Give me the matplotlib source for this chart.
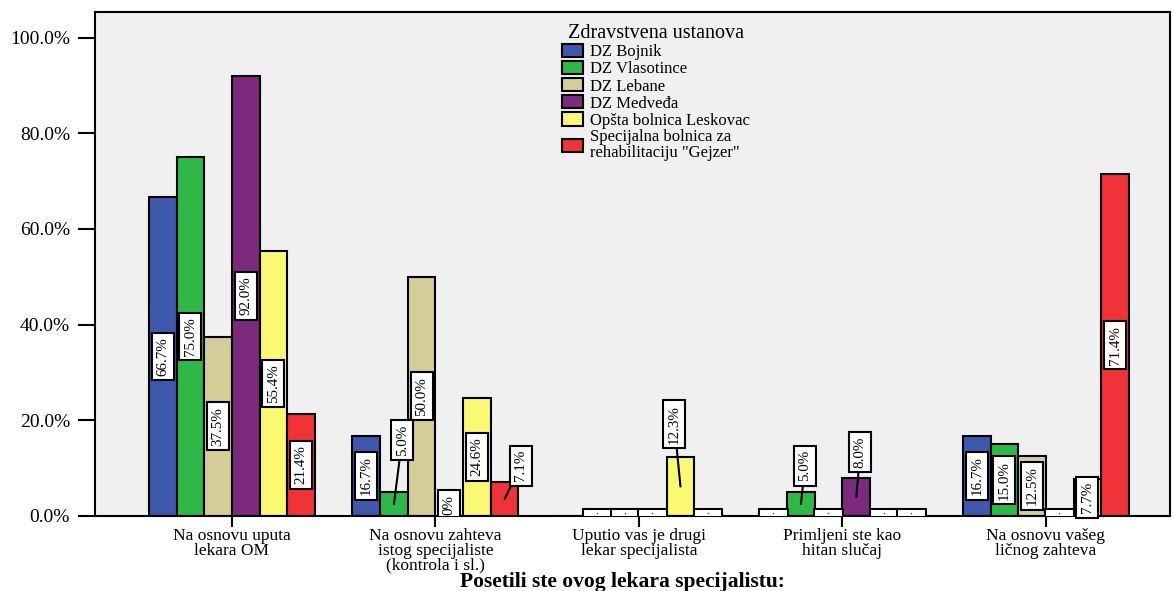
import numpy as np
import matplotlib
matplotlib.use('Agg')
import matplotlib.pyplot as plt

categories = ["Na osnovu uputa\nlekara OM",
              "Na osnovu zahteva\nistog specijaliste\n(kontrola i sl.)",
              "Uputio vas je drugi\nlekar specijalista",
              "Primljeni ste kao\nhitan slučaj",
              "Na osnovu vašeg\nličnog zahteva"]
series_names = ["DZ Bojnik", "DZ Vlasotince", "DZ Lebane", "DZ Medveđa",
                "Opšta bolnica Leskovac",
                "Specijalna bolnica za\nrehabilitaciju \"Gejzer\""]
dz_bojnik = [66.7, 16.7, np.nan, 0.0, 16.7]
dz_vlasotince = [75.0, 5.0, 0.0, 5.0, 15.0]
dz_lebane = [37.5, 50.0, 0.0, 0.0, 12.5]
dz_medveda = [92.0, 0.0, 0.0, 8.0, 0.0]
opsta_leskovac = [55.4, 24.6, 12.3, 0.0, 7.7]
gejzer = [21.4, 7.1, 0.0, 0.0, 71.4]
yticks = [0, 20, 40, 60, 80, 100]

series = [dz_bojnik, dz_vlasotince, dz_lebane, dz_medveda, opsta_leskovac, gejzer]
colors = ["#3E58AC", "#2EB848", "#D3CE97", "#7B2A7E", "#FBF873", "#EF3338"]

# layout: callout label positions (group, series) -> (dx, label y)
callouts = {(1, 1): (0.04, 15.9), (1, 5): (0.08, 10.5), (2, 4): (-0.03, 19.2),
            (3, 1): (0.02, 10.5), (3, 3): (0.02, 13.4)}
tall_zero = {(1, 3)}

plt.rcParams['font.family'] = ['Liberation Serif', 'DejaVu Serif']

fig = plt.figure(figsize=(11.73, 5.91), dpi=100)
ax = fig.add_axes([0.081, 0.127, 0.9165, 0.853])
ax.set_facecolor('#F0F0F0')

x = np.arange(len(categories))
w = 0.136
bbox = dict(boxstyle='square,pad=0.3', fc='white', ec='black', lw=1.5)
lab_fs = 10.8
for i, (vals, col, name) in enumerate(zip(series, colors, series_names)):
    v = np.array(vals, dtype=float)
    pos = x + (i - 2.5) * w
    ax.bar(pos, np.nan_to_num(v), width=w, color=col, edgecolor='black',
           linewidth=1.5, label=name, zorder=2)
    for g in range(len(categories)):
        val = v[g]
        if np.isnan(val):
            continue
        txt = f"{val:.1f}%"
        if (g, i) in callouts:
            dx, ly = callouts[(g, i)]
            ax.annotate(txt, xy=(pos[g], val / 2), xytext=(pos[g] + dx, ly),
                        rotation=90, ha='center', va='center', fontsize=lab_fs,
                        bbox=bbox, zorder=4,
                        arrowprops=dict(arrowstyle='-', lw=1.5, color='black',
                                        shrinkA=0, shrinkB=0))
        elif val == 0 and (g, i) in tall_zero:
            ax.text(pos[g], 0.3, "0%", rotation=90, ha='center', va='bottom',
                    fontsize=lab_fs, bbox=bbox, zorder=3, clip_on=True)
        elif val == 0:
            ax.text(pos[g], 0, "    :    ", ha='center', va='center',
                    fontsize=7, zorder=3, clip_on=True,
                    bbox=dict(boxstyle='square,pad=0.3', fc='white',
                              ec='black', lw=1.5))
        else:
            ax.text(pos[g], val / 2, txt, rotation=90, ha='center', va='center',
                    fontsize=lab_fs, bbox=bbox, zorder=3)

ax.set_xlim(-0.673, 4.61)
ax.set_ylim(0, 105.4)
ax.set_yticks(yticks)
ax.set_yticklabels([f"{t:.1f}%" for t in yticks], fontsize=14)
ax.set_xticks(x)
ax.set_xticklabels(categories, fontsize=12.5, linespacing=0.9, va='top')
ax.tick_params(axis='y', length=12, width=1.5, pad=6)
ax.tick_params(axis='x', length=8, width=1.5, pad=0.5)
for s in ax.spines.values():
    s.set_linewidth(1.5)
ax.set_xlabel("Posetili ste ovog lekara specijalistu:", fontsize=15.5,
              fontweight='bold')
ax.xaxis.set_label_coords((622 - 95) / 1075, (516 - 582) / 504)
ax.xaxis.label.set_va('center')

leg = ax.legend(loc='upper left', bbox_to_anchor=(0.428, 0.99), frameon=False,
                title="Zdravstvena ustanova", title_fontsize=14.5, fontsize=12,
                handlelength=1.25, handleheight=0.85, handletextpad=0.45,
                labelspacing=0.04, borderaxespad=0)
leg._legend_box.align = "center"
leg._legend_box.sep = 1
for t in leg.get_texts():
    t.set_linespacing(0.95)

fig.savefig('out.png', dpi=100)
